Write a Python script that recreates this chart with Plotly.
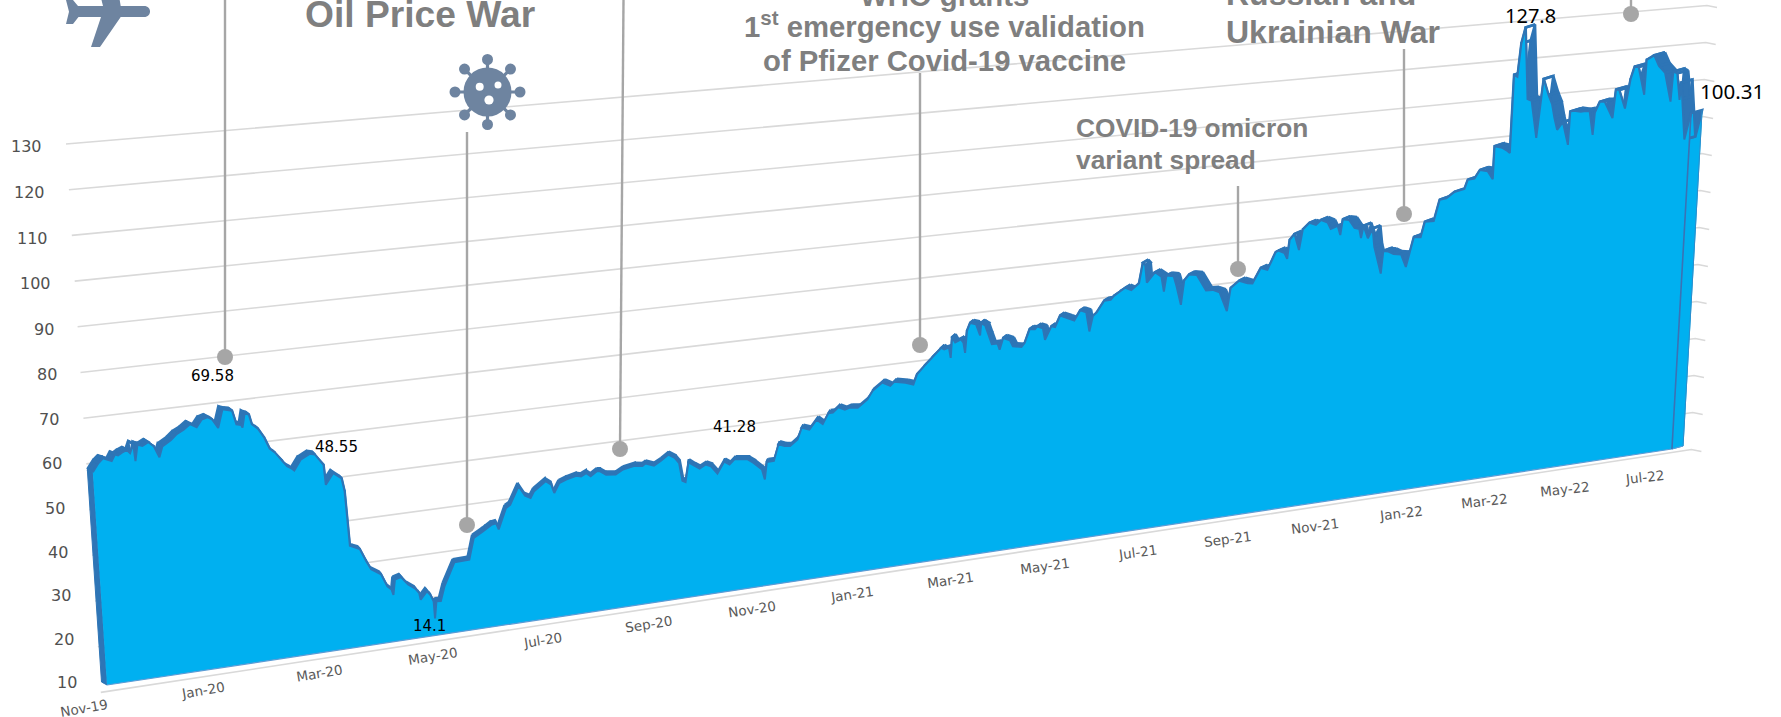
import math
import plotly.graph_objects as go

# months since Nov-2019 and the price index
months = [0,.10,.18,.23,.32,.38,.43,.49,.58,.63,.69,.71,.76,.84,.94,1.03,1.11,1.17,1.32,1.42,1.54,1.65,1.76,1.85,1.95,2.03,2.12,2.21,2.29,2.37,2.43,2.51,2.53,2.58,2.65,2.69,2.79,2.89,2.97,3.06,3.18,3.25,3.33,3.37,3.49,3.65,3.74,3.88,3.9,4.04,4.18,4.22,4.26,4.34,4.43,4.53,4.61,4.78,4.86,
4.88,4.95,4.98,5.02,5.13,5.25,5.38,5.44,5.46,5.58,5.64,5.69,5.70,5.74,5.82,5.90,6.10,6.37,6.47,6.64,6.70,6.80,6.89,6.93,7.08,7.16,7.33,7.44,7.54,7.61,7.83,7.93,7.98,8.08,8.21,8.40,8.49,8.59,8.67,8.79,8.85,8.96,9.14,9.28,9.5,9.65,9.71,9.87,10.0,10.15,10.27,10.35,10.40,10.46,
10.53,10.64,10.74,10.86,10.96,11.08,11.22,11.32,11.42,11.67,11.79,11.95,12.0,12.05,12.19,12.29,12.41,12.52,12.67,12.76,12.91,13.06,13.18,13.3,13.39,13.5,13.63,13.73,13.89,14.09,14.2,14.4,14.56,14.64,14.87,15.03,15.11,15.26,15.43,15.62,15.68,15.78,15.81,15.85,15.91,16.03,16.08,16.11,16.16,16.23,16.35,16.43,16.46,
16.49,16.54,16.6,16.67,16.79,16.83,16.91,17.05,17.11,17.29,17.36,17.47,17.58,17.63,17.75,17.79,17.93,18.01,18.12,18.28,18.42,18.55,18.68,18.74,18.82,18.9,19.07,19.21,19.28,19.42,19.53,19.66,19.83,19.92,19.97,20.0,20.18,20.32,20.37,20.43,20.59,20.65,20.74,20.82,20.93,21.1,21.3,21.45,21.6,21.76,21.85,22.04,22.23,22.34,22.53,22.68,22.87,
22.93,23.07,23.13,23.19,23.3,23.4,23.49,23.64,23.79,23.91,24.06,24.13,24.29,24.35,24.41,24.56,24.68,24.79,24.83,24.89,24.99,25.1,25.14,25.22,25.29,25.35,25.47,25.59,25.77,25.88,26.07,26.23,26.33,26.54,26.68,26.84,27.03,27.27,27.35,27.51,27.64,27.83,27.95,27.99,28.09,28.17,
28.3,28.36,28.45,28.53,28.62,28.72,28.78,28.88,29.0,29.17,29.29,29.38,29.44,29.51,29.65,29.78,29.83,29.92,30.09,30.21,30.31,30.39,30.44,30.56,30.68,30.88,30.96,31.04,31.19,31.32,31.42,31.52,31.67,31.72,31.91,32.03,32.19,32.34,32.4,32.5,32.57,32.61,32.71,32.87]

values = [58.9,60.8,61.8,61.5,60.9,62.3,62,62.5,63,62.2,64.2,60.2,63.9,63.5,64.2,63,60.4,62.8,64,65.2,66,67.1,66.2,67.8,68.2,67.5,65.4,69.58,69.2,69,65.7,65.4,64.8,68,67.6,65.3,64.1,61.8,59.1,58,55.8,54.5,53.8,53.3,55.6,56.7,56.4,53.7,49,51.5,50,46.9,34,33.4,32.9,29.9,27.8,26.3,23.8,
23.3,22.4,21.1,24.6,25,23,21.7,20.6,19,20.8,19.8,18.2,14.1,18.1,18,21.4,26.7,26.8,31.8,33,33.5,34.3,34.5,33,37.8,38.4,42.6,40.1,39.4,40.9,42.9,41.9,39.8,42,42.6,43.2,42.9,43.5,42.6,43.6,43.5,42.5,42.2,43.2,43.7,43.4,43.9,43.1,44,45.3,44.3,42.9,38.5,38.1,
42.8,41.7,40.9,41.7,41.1,39.1,41.8,40.9,42,41.6,40.5,38.6,36.1,40.3,40.3,44.2,43.6,43.4,44.8,47.5,46.8,49,47.7,50.2,50.2,51.3,50.5,50.9,50.6,52.3,54.3,56,54.9,55.8,55.2,54.5,56.9,58.7,60.6,62.7,62.2,62.5,59.9,65,63.6,64.2,63.3,60.7,66.1,68,67.5,64.6,67.7,
67.3,66.9,64.6,62,62,60.4,63.2,62.4,60.8,60.4,61.3,64.6,64.4,65,64.4,61.4,64.6,64.3,67,66.1,65.3,67.7,67,62.1,65.9,66.6,69.4,69.4,70.3,71.3,72,71.2,72.7,77.8,77.1,72.6,75,73.7,69.8,73.8,73.4,70.8,65.9,72,73.4,73,68.8,68.7,67.9,62.8,68.6,70.2,69.3,69.1,72.8,72.1,76.4,
76.7,75.9,74.3,79.1,80.5,76.2,81.4,82.9,82.2,83.3,82.4,80.7,81.3,78.8,82.8,82.4,80.2,79.8,77.4,80.5,77.1,79.5,74.7,71.1,67.5,73.3,73,72.2,71.8,68.4,76,75.7,79.6,79.5,84.9,85.1,86.5,87,89.3,89.4,91.5,90.9,88.7,97.3,96.9,96.7,
95.7,95.1,115.6,115,123.7,127.8,108.8,108.2,98.3,113.7,109.3,106.8,103.1,99.8,101.7,95.5,104.3,104.4,103.9,104,103.8,97.4,103.3,106,105.9,101.3,108.8,108.6,103.5,111.1,114.4,114.2,106.6,115.9,116.9,113.9,111.9,104,112,111.4,104.2,108.8,93.4,100.31]

y_levels = [10,20,30,40,50,60,70,80,90,100,110,120,130]
tick_months = list(range(0, 33, 2))
tick_labels = ["Nov-19","Jan-20","Mar-20","May-20","Jul-20","Sep-20","Nov-20","Jan-21","Mar-21",
               "May-21","Jul-21","Sep-21","Nov-21","Jan-22","Mar-22","May-22","Jul-22"]

FILL, RIDGE, GRID, CALL, ICON, TXT = "#00B0F0", "#2E75B6", "#D9D9D9", "#A6A6A6", "#6E84A0", "#7F7F7F"


def depth(m):
    return 60.9 * m / (1 + 0.00777 * m)


def back(m, v):
    d, u = depth(m), v - 10
    return 101.5 + d + (-0.29 + 0.000224 * d) * u, 682 - 0.148 * d - (4.35 - 0.000395 * d) * u


def front(m, v):
    x, y = back(m, v)
    return x + 5.5 - 0.0104 * depth(m), y + 3


fig = go.Figure()

# gridlines on the rear wall, with the side-wall stubs
gx, gy = [], []
for v in y_levels:
    r = 130 - v
    gx += [66 + r * 0.29, 1707 - r * 0.13, 1717 - r * 0.13, None]
    gy += [144 + r * 4.57, 5.5 + r * 3.7, 7.5 + r * 3.7, None]
fig.add_trace(go.Scatter(x=gx, y=gy, mode="lines", line=dict(color=GRID, width=1.6)))

B = [back(m, v) for m, v in zip(months, values)]
F = [front(m, v) for m, v in zip(months, values)]
mE, vE = months[-1], values[-1]
WALL_LEAN = 13  # the right-hand wall leans further than the ridge model
bb = back(mE, 10)
ff = front(mE, 10)
bb = (bb[0] - WALL_LEAN, bb[1])
ff = (ff[0] - WALL_LEAN, ff[1])

# left wall
m0, v0 = months[0], values[0]
p = [back(m0, 10), back(m0, v0), front(m0, v0), front(m0, 10), back(m0, 10)]
fig.add_trace(go.Scatter(x=[a for a, _ in p], y=[b for _, b in p], mode="lines", fill="toself",
                         fillcolor=RIDGE, line=dict(color=RIDGE, width=1)))
# right wall
p = [ff, front(mE, vE), back(mE, vE), bb, ff]
fig.add_trace(go.Scatter(x=[a for a, _ in p], y=[b for _, b in p], mode="lines", fill="toself",
                         fillcolor=FILL, line=dict(color=FILL, width=1)))
# top ridge between the rear and the front curve
rx, ry = [], []
for i in range(len(B) - 1):
    q = [B[i], B[i + 1], F[i + 1], F[i], B[i]]
    rx += [a for a, _ in q] + [None]
    ry += [b for _, b in q] + [None]
fig.add_trace(go.Scatter(x=rx, y=ry, mode="lines", fill="toself", fillcolor=RIDGE,
                         line=dict(color=RIDGE, width=2.6, )))
# front face
bl = front(months[0], 10)
fx = [bl[0]] + [a for a, _ in F] + [ff[0], bl[0]]
fy = [bl[1]] + [b for _, b in F] + [ff[1], bl[1]]
fig.add_trace(go.Scatter(x=fx, y=fy, mode="lines", fill="toself", fillcolor=FILL,
                         line=dict(color=FILL, width=0)))
fig.add_trace(go.Scatter(x=[a for a, _ in F], y=[b for _, b in F], mode="lines",
                         line=dict(color=RIDGE, width=2)))
fig.add_trace(go.Scatter(x=[bl[0], ff[0], bb[0]], y=[bl[1], ff[1], bb[1]],
                         mode="lines", line=dict(color="#5B9BD5", width=1.2)))
fig.add_trace(go.Scatter(x=[ff[0], F[-1][0]], y=[ff[1], F[-1][1]], mode="lines",
                         line=dict(color="#3A72B5", width=1.6)))
fig.add_trace(go.Scatter(x=[bb[0], B[-1][0]], y=[bb[1], B[-1][1]], mode="lines",
                         line=dict(color="#2E8CCB", width=1)))

# call-out stems and dots
stems = [(225, 0, 225, 357), (467, 132, 467, 525), (623.5, 0, 620, 449), (920, 73, 920, 345),
         (1238, 186, 1238, 269), (1404, 49, 1404, 214), (1631, 0, 1631, 14)]
sx, sy = [], []
for a, b, c, d in stems:
    sx += [a, c, None]
    sy += [b, d, None]
fig.add_trace(go.Scatter(x=sx, y=sy, mode="lines", line=dict(color=CALL, width=2.4)))
fig.add_trace(go.Scatter(x=[s[2] for s in stems], y=[s[3] for s in stems], mode="markers",
                         marker=dict(color=CALL, size=16, line=dict(width=0))))

ann = []


def text(x, y, s, size, color, family="Liberation Sans", bold=False, xanchor="center",
         yanchor="middle", angle=0):
    ann.append(dict(x=x, y=y, xref="x", yref="y", text=f"<b>{s}</b>" if bold else s, showarrow=False,
                    xanchor=xanchor, yanchor=yanchor, textangle=angle, align="left" if xanchor == "left" else "center",
                    font=dict(size=size, color=color, family=family),
                    borderpad=0, borderwidth=0))


for v in y_levels:
    r = 130 - v
    text(42 + r * 0.29, 146 + r * 4.47 + 0.0014 * r * (120 - r), str(v), 16, "#505050", "DejaVu Sans", xanchor="right")
for m, s in zip(tick_months, tick_labels):
    d = depth(m)
    text(101.5 + d - 18, 682 - 0.148 * d + 26, s, 13.5, "#595959", "DejaVu Sans",
         angle=-(10 - 4 * m / 32))
for x, y, s in [(212.6, 376, "69.58"), (336, 447, "48.55"), (429, 626, "14.1"), (734, 427, "41.28")]:
    text(x, y, s, 15, "#000000", "DejaVu Sans")
text(1530, 15, "127.8", 20, "#000000", "Noto Sans")
text(1732, 91, "100.31", 20.5, "#000000", "Noto Sans")

text(420, 14, "Oil Price War", 37.2, TXT, bold=True)
text(944, 12, "WHO grants", 29.3, TXT, bold=True, yanchor="bottom")
text(944, 24, "1<sup>st</sup> emergency use validation", 29.3, TXT, bold=True)
text(944, 60, "of Pfizer Covid-19 vaccine", 29.3, TXT, bold=True)
text(1226, 12, "Russian and", 32, TXT, bold=True, xanchor="left", yanchor="bottom")
text(1226, 32, "Ukrainian War", 32, TXT, bold=True, xanchor="left")
text(1076, 128, "COVID-19 omicron", 26.3, TXT, bold=True, xanchor="left")
text(1076, 160, "variant spread", 26.3, TXT, bold=True, xanchor="left")

shapes = []
# aeroplane icon
shapes.append(dict(type="path", xref="x", yref="y", fillcolor=ICON, line=dict(width=0),
                   path="M 144,6 C 152,6 152,17 144,17 L 120.7,17 L 100,47 L 91,47 L 101,17 L 78.5,17 "
                        "L 73,24 L 66,24 L 69,11.7 L 66,0 L 73,0 L 78,6 L 103,6 L 99,-10 L 118,-10 L 120.7,6 Z"))
# virus icon
cx, cy = 487.5, 92
for k in range(8):
    a = math.pi * k / 4
    ex, ey = cx + 32.5 * math.cos(a), cy + 32.5 * math.sin(a)
    shapes.append(dict(type="line", xref="x", yref="y", x0=cx, y0=cy, x1=ex, y1=ey,
                       line=dict(color=ICON, width=3.2)))
    shapes.append(dict(type="circle", xref="x", yref="y", x0=ex - 5.5, x1=ex + 5.5, y0=ey - 5.5, y1=ey + 5.5,
                       fillcolor=ICON, line=dict(width=0)))
shapes.append(dict(type="circle", xref="x", yref="y", x0=cx - 24, x1=cx + 24, y0=cy - 24.5, y1=cy + 24.5,
                   fillcolor=ICON, line=dict(width=0)))
for hx, hy, hr in [(479.7, 86.7, 4), (498, 85, 3.5), (489, 100, 4.6)]:
    shapes.append(dict(type="circle", xref="x", yref="y", x0=hx - hr, x1=hx + hr, y0=hy - hr, y1=hy + hr,
                       fillcolor="white", line=dict(width=0)))

fig.update_layout(
    width=1781, height=717, autosize=False, showlegend=False, hovermode=False,
    margin=dict(l=0, r=0, t=0, b=0), paper_bgcolor="white", plot_bgcolor="white",
    xaxis=dict(range=[0, 1781], visible=False, fixedrange=True),
    yaxis=dict(range=[717, 0], visible=False, fixedrange=True),
    annotations=ann, shapes=shapes,
)
fig.write_html("out.html", config={"displayModeBar": False}, post_script="document.body.style.margin='0';")
